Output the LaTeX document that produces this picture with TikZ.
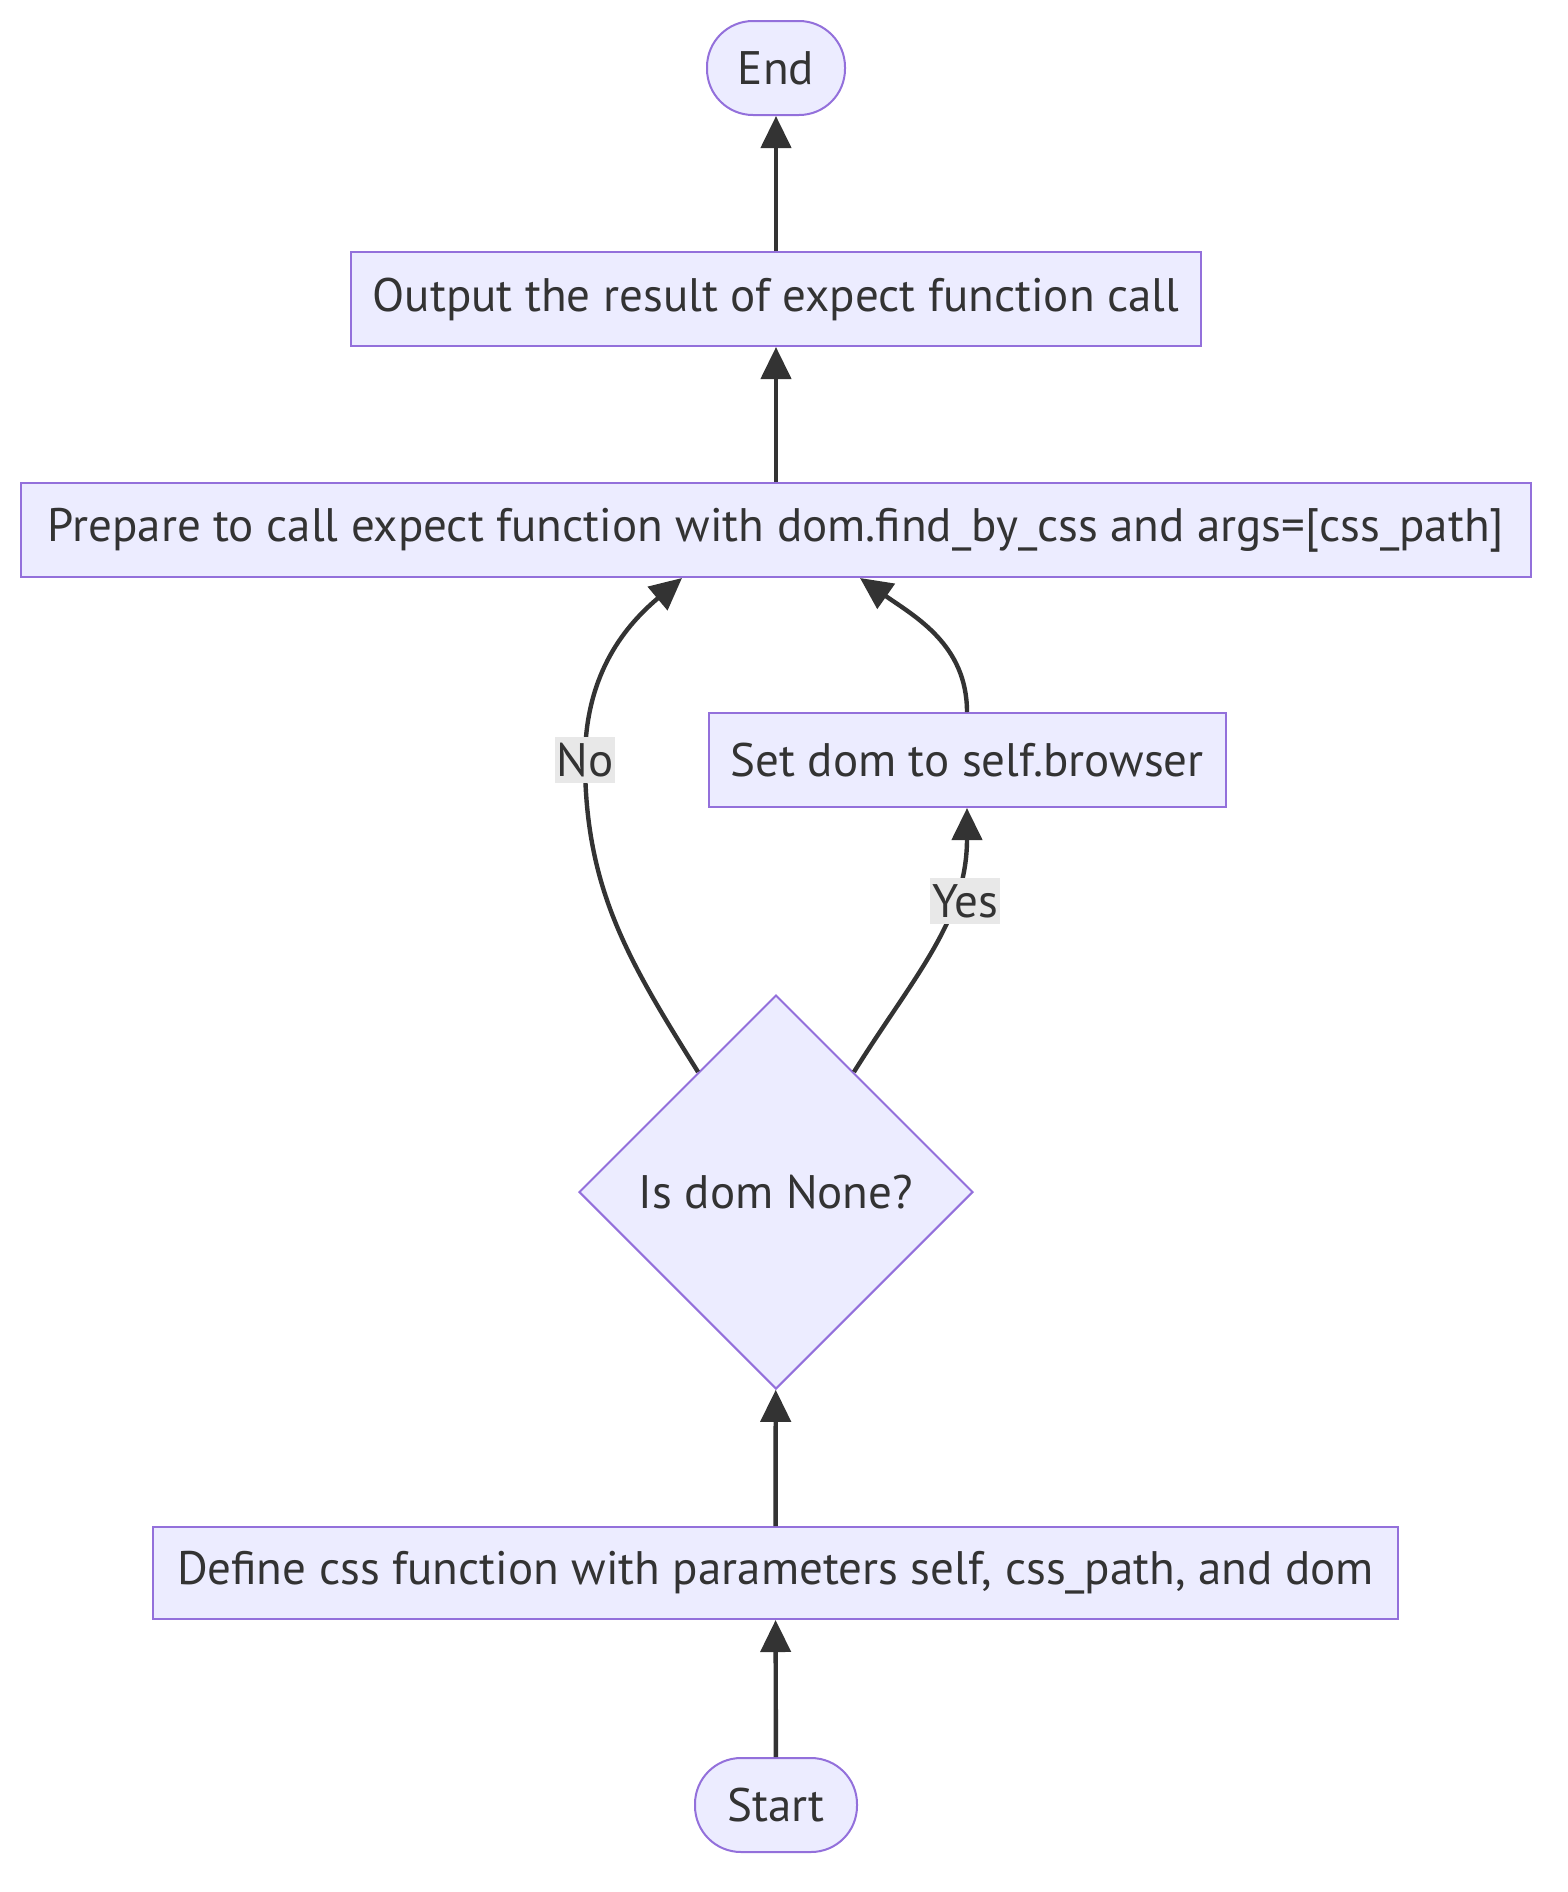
\documentclass[tikz,border=0pt]{standalone}
\usepackage{fontspec}
\setmainfont{PT Sans}
\usetikzlibrary{shapes.geometric,arrows.meta,calc}
\definecolor{nodefill}{HTML}{ECECFF}
\definecolor{nodeline}{HTML}{9370DB}
\definecolor{edgeline}{HTML}{333333}
\definecolor{lblbg}{HTML}{E8E8E8}
\begin{document}
\begin{tikzpicture}[x=0.5pt,y=-0.5pt,
  every node/.style={font=\fontsize{23.5pt}{28pt}\selectfont, text=edgeline},
  boxnode/.style={draw=nodeline, fill=nodefill, line width=1pt, minimum height=47pt, inner sep=0pt},
  termnode/.style={boxnode, rounded corners=23pt},
  dianode/.style={draw=nodeline, fill=nodefill, line width=1pt, shape=diamond, minimum width=197pt, minimum height=197pt, inner sep=0pt},
  edgestyle/.style={draw=edgeline, line width=2.2pt, -{Triangle[length=16pt,width=15pt]}},
  lblnode/.style={fill=lblbg, inner xsep=1pt, inner ysep=3pt}
]
\useasboundingbox (0,0) rectangle (1568,1892);
\node[termnode, minimum width=69pt] (end) at (776,68) {End};
\node[boxnode, minimum width=425pt] (out) at (776,299) {Output the result of expect function call};
\node[boxnode, minimum width=755pt] (prep) at (776,530) {Prepare to call expect function with dom.find\_by\_css and args=[css\_path]};
\node[boxnode, minimum width=258.5pt] (set) at (967,760) {Set dom to self.browser};
\node[dianode] (dia) at (776,1192) {Is dom None?};
\node[boxnode, minimum width=622.5pt, minimum height=46pt] (def) at (775.5,1573) {Define css function with parameters self, css\_path, and dom};
\node[termnode, minimum width=81pt] (start) at (776,1805) {Start};

\coordinate (pn) at ($(prep.south)+(-94,0)$);
\coordinate (py) at ($(prep.south)+(84,0)$);
\coordinate (nm) at (585,760);

\draw[edgestyle] (start) -- (def);
\draw[edgestyle] (def) -- (dia);
\draw[edgestyle] (dia.123) to[out=122,in=-90] (nm) to[out=90,in=-140] (pn);
\draw[edgestyle] (dia.57) to[out=58,in=-90] (set.south);
\draw[edgestyle] (set.north) to[out=90,in=-35] (py);
\draw[edgestyle] (prep) -- (out);
\draw[edgestyle] (out) -- (end);

\node[lblnode] (lno) at (nm) {No};
\node[lblnode] (lyes) at (965,901) {Yes};
\end{tikzpicture}
\end{document}
